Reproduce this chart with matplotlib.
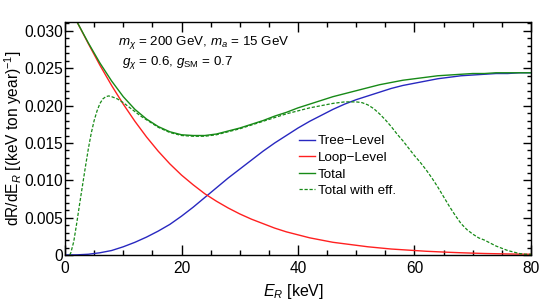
import matplotlib
matplotlib.use('Agg')
import matplotlib.pyplot as plt
from matplotlib.ticker import MultipleLocator, FuncFormatter
from matplotlib.lines import Line2D

plt.rcParams['font.family'] = ['Liberation Sans', 'DejaVu Sans']
plt.rcParams['mathtext.fontset'] = 'custom'
plt.rcParams['mathtext.rm'] = 'Liberation Sans'
plt.rcParams['mathtext.it'] = 'Liberation Sans:italic'
plt.rcParams['mathtext.bf'] = 'Liberation Sans:bold'

# ---- data ----
energy = [0, 2, 4, 6, 8, 10, 12, 14, 16, 18, 20, 22, 24, 26, 28, 30, 32, 34, 36, 38,
          40, 42, 44, 46, 48, 50, 52, 54, 56, 58, 60, 62, 64, 66, 68, 70, 72, 74, 76, 78, 80]

tree_level = [0.0, 0.00002, 0.0001, 0.0003, 0.0006, 0.0011, 0.0017, 0.0024, 0.0032, 0.0041,
              0.0052, 0.0064, 0.0077, 0.0090, 0.0103, 0.0115, 0.0127, 0.0139, 0.0150, 0.0160,
              0.0170, 0.0179, 0.0187, 0.0195, 0.0202, 0.0208, 0.0213, 0.0218, 0.0223, 0.0227,
              0.0230, 0.0233, 0.0236, 0.0238, 0.0240, 0.0241, 0.0242, 0.0243, 0.0243, 0.0244, 0.0244]

loop_level = [0.0345, 0.0313, 0.0283, 0.0254, 0.0227, 0.0202, 0.0179, 0.0158, 0.0139, 0.0122,
              0.0107, 0.0094, 0.0082, 0.0072, 0.0063, 0.0055, 0.0048, 0.0042, 0.0036, 0.0031,
              0.0027, 0.0023, 0.0020, 0.0017, 0.0015, 0.0013, 0.0011, 0.00095, 0.0008, 0.0007,
              0.0006, 0.0005, 0.00043, 0.00036, 0.0003, 0.00025, 0.0002, 0.00017, 0.00014, 0.00012, 0.0001]

total = [0.0345, 0.0313, 0.0284, 0.0257, 0.0233, 0.0212, 0.0195, 0.0182, 0.0172, 0.0165,
         0.0161, 0.0160, 0.0160, 0.0162, 0.0166, 0.0170, 0.0175, 0.0180, 0.0186, 0.0191,
         0.0197, 0.0202, 0.0207, 0.0212, 0.0216, 0.0220, 0.0224, 0.0228, 0.0231, 0.0234,
         0.0236, 0.0238, 0.0240, 0.0241, 0.0242, 0.0243, 0.0243, 0.0244, 0.0244, 0.0244, 0.0244]

energy_eff = [0.8, 1.0, 1.5, 2.0, 2.5, 3.0, 3.5, 4.0, 4.5, 5.0, 5.5, 6.0, 6.5, 7.0, 7.5, 8, 9, 10,
              11, 12, 13, 14, 16, 18, 20, 22, 24, 26, 28, 30, 32, 34, 36, 38, 40, 42, 44, 46,
              47, 48, 49, 50, 51, 52, 53, 54, 55, 56, 57, 58, 59, 60, 61, 62, 63, 64, 65, 66,
              67, 68, 69, 70, 71, 72, 73, 74, 75, 76, 77, 78, 79, 80]
total_eff = [0.0, 0.0003, 0.0018, 0.0042, 0.0068, 0.0093, 0.0118, 0.0142, 0.0163, 0.0180,
             0.0193, 0.0203, 0.0209, 0.0212, 0.0213, 0.0212, 0.0209, 0.0204, 0.0198, 0.0192,
             0.0186, 0.0181, 0.0171, 0.0164, 0.0160, 0.0159, 0.0159, 0.0161, 0.0165, 0.0169,
             0.0174, 0.0179, 0.0184, 0.0189, 0.0193, 0.0197, 0.0200, 0.0203, 0.0204, 0.0205,
             0.0205, 0.0205, 0.0204, 0.0201, 0.0196, 0.0189, 0.0181, 0.0172, 0.0162, 0.0153,
             0.0143, 0.0133, 0.0124, 0.0114, 0.0103, 0.0091, 0.0078, 0.0065, 0.0053, 0.0042,
             0.0034, 0.0028, 0.0023, 0.0020, 0.0016, 0.0012, 0.0009, 0.0006, 0.0004, 0.0002,
             0.0001, 0.0001]

labels = ['Tree\u2212Level', 'Loop\u2212Level', 'Total', 'Total with eff.']
colors = ['#2828c0', '#ff2020', '#178a17', '#178a17']

# ---- figure ----
fig = plt.figure(figsize=(5.4, 3.0), dpi=100)
ax = fig.add_axes([0.1204, 0.15, 0.8629, 0.7767])

lw = 1.0
dash = (2.6, 1.4)
ax.plot(energy, tree_level, color=colors[0], lw=lw)
ax.plot(energy, loop_level, color=colors[1], lw=lw)
ax.plot(energy, total, color=colors[2], lw=lw)
ax.plot(energy_eff, total_eff, color=colors[3], lw=0.9, dashes=dash)

ax.set_xlim(0, 80)
ax.set_ylim(0, 0.0312)

ax.xaxis.set_major_locator(MultipleLocator(20))
ax.xaxis.set_minor_locator(MultipleLocator(5))
ax.yaxis.set_major_locator(MultipleLocator(0.005))
ax.yaxis.set_minor_locator(MultipleLocator(0.001))
ax.yaxis.set_major_formatter(FuncFormatter(lambda v, p: '0' if abs(v) < 1e-12 else '%.3f' % v))
ax.xaxis.set_major_formatter(FuncFormatter(lambda v, p: '%d' % v))

ax.tick_params(which='both', direction='in', top=True, right=True, labelsize=11.2, width=1.0)
ax.tick_params(axis='x', which='major', length=7, pad=4)
ax.tick_params(axis='x', which='minor', length=3.5)
ax.tick_params(axis='y', which='major', length=6, pad=1.5)
ax.tick_params(axis='y', which='minor', length=3)
for s in ax.spines.values():
    s.set_linewidth(1.0)

ax.set_xlabel('$E_R$ [keV]', fontsize=11.5)
ax.xaxis.set_label_coords(0.49, -0.115)
ax.set_ylabel('dR/dE$_{R}$ [(keV ton year)$^{-1}$]', fontsize=11.2)
ax.yaxis.set_label_coords(-0.088, 0.50)

ax.text(0.1137, 0.91, r'$m_\chi$ = 200 GeV, $m_a$ = 15 GeV', transform=ax.transAxes,
        fontsize=9.6, va='center', ha='left')
ax.text(0.1223, 0.824, r'$g_\chi$ = 0.6, $g_{\rm SM}$ = 0.7', transform=ax.transAxes,
        fontsize=9.6, va='center', ha='left')

handles = [Line2D([], [], color=colors[0], lw=lw),
           Line2D([], [], color=colors[1], lw=lw),
           Line2D([], [], color=colors[2], lw=lw),
           Line2D([], [], color=colors[3], lw=0.9, dashes=dash)]
ax.legend(handles, labels, loc='upper left', bbox_to_anchor=(0.503, 0.515), frameon=False,
          fontsize=9.6, handlelength=1.15, handletextpad=0.25, labelspacing=0.32,
          borderpad=0, borderaxespad=0)

fig.savefig('out.png', dpi=100)
